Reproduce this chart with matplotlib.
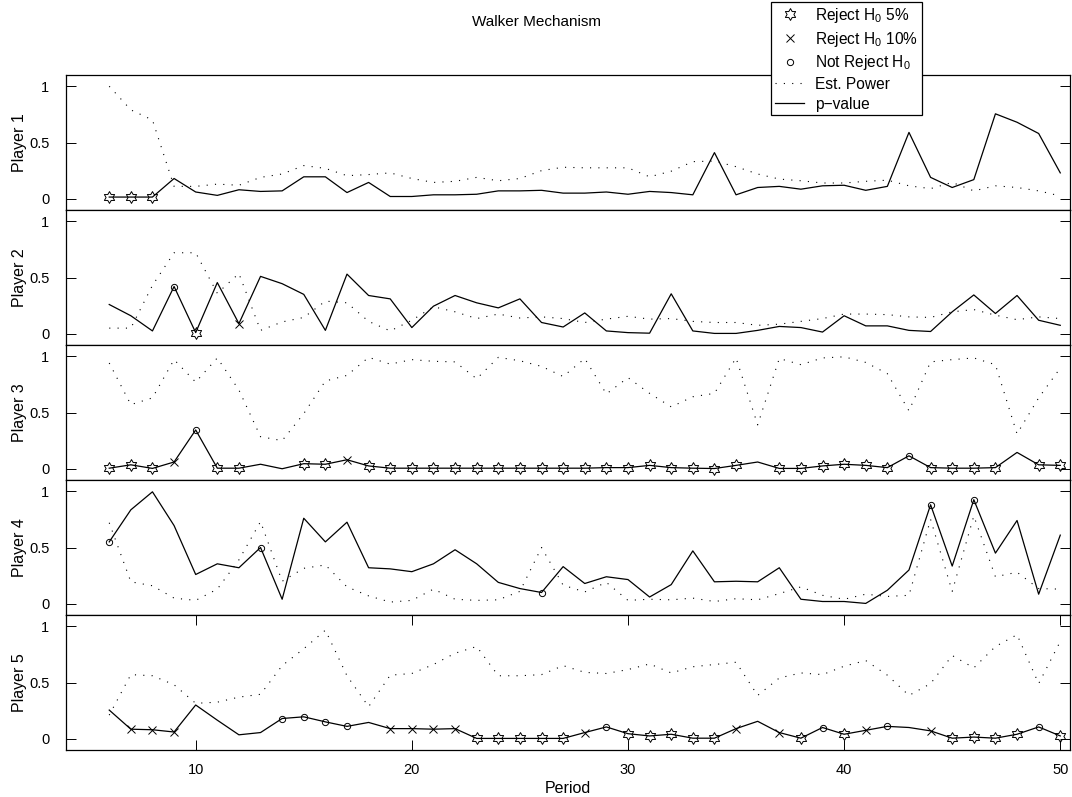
import numpy as np
import matplotlib
matplotlib.use("Agg")
import matplotlib.pyplot as plt
from matplotlib.path import Path
from matplotlib.lines import Line2D

plt.rcParams["font.family"] = ["Liberation Sans", "DejaVu Sans"]
plt.rcParams["mathtext.fontset"] = "custom"
plt.rcParams["mathtext.rm"] = "Liberation Sans"
plt.rcParams["mathtext.it"] = "Liberation Sans:italic"
plt.rcParams["mathtext.bf"] = "Liberation Sans:bold"

# ---------------------------------------------------------------- data
periods = list(range(6, 51))

players = ["Player 1", "Player 2", "Player 3", "Player 4", "Player 5"]

p1_pvalue = [0.015, 0.015, 0.015, 0.18, 0.06, 0.03, 0.08, 0.065, 0.07, 0.195,
             0.195, 0.055, 0.145, 0.02, 0.02, 0.035, 0.035, 0.04, 0.07, 0.07,
             0.075, 0.05, 0.05, 0.06, 0.04, 0.065, 0.055, 0.035, 0.41, 0.035,
             0.10, 0.11, 0.085, 0.115, 0.12, 0.075, 0.11, 0.59, 0.19, 0.10,
             0.17, 0.755, 0.68, 0.58, 0.23]
p1_power = [1.0, 0.79, 0.70, 0.11, 0.11, 0.13, 0.12, 0.19, 0.22, 0.295,
            0.27, 0.205, 0.215, 0.23, 0.18, 0.145, 0.155, 0.19, 0.16, 0.18,
            0.25, 0.28, 0.275, 0.275, 0.275, 0.195, 0.245, 0.33, 0.335, 0.285,
            0.22, 0.175, 0.16, 0.14, 0.14, 0.155, 0.165, 0.115, 0.09, 0.145,
            0.07, 0.115, 0.10, 0.07, 0.025]
p1_test = "hhh" + "." * 42

p2_pvalue = [0.26, 0.16, 0.025, 0.42, 0.01, 0.455, 0.09, 0.51, 0.445, 0.35,
             0.03, 0.53, 0.34, 0.31, 0.055, 0.245, 0.34, 0.275, 0.23, 0.31,
             0.10, 0.06, 0.185, 0.025, 0.01, 0.005, 0.355, 0.025, 0.003, 0.003,
             0.03, 0.065, 0.055, 0.015, 0.16, 0.07, 0.07, 0.03, 0.02, 0.195,
             0.345, 0.18, 0.34, 0.12, 0.075]
p2_power = [0.05, 0.05, 0.43, 0.72, 0.72, 0.36, 0.535, 0.03, 0.105, 0.145,
            0.29, 0.275, 0.11, 0.025, 0.12, 0.24, 0.195, 0.135, 0.175, 0.14,
            0.15, 0.135, 0.10, 0.13, 0.155, 0.13, 0.135, 0.11, 0.10, 0.10,
            0.075, 0.085, 0.11, 0.135, 0.175, 0.175, 0.17, 0.15, 0.145, 0.195,
            0.215, 0.165, 0.125, 0.15, 0.135]
p2_test = "...oh.x" + "." * 38

p3_pvalue = [0.005, 0.035, 0.003, 0.06, 0.345, 0.005, 0.005, 0.04, 0.0, 0.045,
             0.04, 0.08, 0.025, 0.005, 0.005, 0.005, 0.005, 0.005, 0.005, 0.005,
             0.005, 0.005, 0.005, 0.01, 0.01, 0.03, 0.01, 0.005, 0.002, 0.03,
             0.06, 0.003, 0.003, 0.025, 0.04, 0.03, 0.01, 0.115, 0.01, 0.005,
             0.005, 0.01, 0.145, 0.035, 0.03]
p3_power = [0.94, 0.57, 0.63, 0.97, 0.77, 0.985, 0.70, 0.285, 0.25, 0.49,
            0.78, 0.83, 0.99, 0.93, 0.97, 0.955, 0.95, 0.80, 0.99, 0.96,
            0.91, 0.82, 0.98, 0.665, 0.81, 0.67, 0.55, 0.64, 0.67, 0.985,
            0.39, 0.98, 0.925, 0.985, 0.995, 0.945, 0.845, 0.515, 0.95, 0.97,
            0.985, 0.925, 0.31, 0.63, 0.895]
p3_test = "hhhxohh..hhxh" + "h" * 17 + "." + "h" * 6 + "o" + "hhhh" + "." + "hh"

p4_pvalue = [0.55, 0.835, 0.995, 0.695, 0.26, 0.355, 0.32, 0.50, 0.04, 0.76,
             0.55, 0.725, 0.32, 0.31, 0.285, 0.355, 0.48, 0.355, 0.19, 0.135,
             0.10, 0.33, 0.18, 0.24, 0.215, 0.06, 0.17, 0.47, 0.195, 0.20,
             0.195, 0.32, 0.04, 0.02, 0.02, 0.003, 0.12, 0.30, 0.88, 0.335,
             0.925, 0.45, 0.74, 0.085, 0.61]
p4_power = [0.72, 0.195, 0.16, 0.05, 0.03, 0.13, 0.39, 0.73, 0.20, 0.315,
            0.345, 0.15, 0.07, 0.015, 0.03, 0.13, 0.04, 0.03, 0.035, 0.11,
            0.50, 0.165, 0.105, 0.19, 0.03, 0.04, 0.035, 0.05, 0.02, 0.045,
            0.035, 0.09, 0.15, 0.075, 0.04, 0.085, 0.065, 0.075, 0.75, 0.11,
            0.78, 0.24, 0.28, 0.135, 0.13]
p4_test = "o" + "." * 6 + "o" + "." * 12 + "o" + "." * 17 + "o.o" + "...."

p5_pvalue = [0.255, 0.085, 0.08, 0.06, 0.30, 0.165, 0.035, 0.055, 0.18, 0.195,
             0.15, 0.11, 0.145, 0.09, 0.09, 0.085, 0.09, 0.003, 0.003, 0.003,
             0.003, 0.003, 0.055, 0.105, 0.045, 0.025, 0.04, 0.005, 0.005, 0.09,
             0.155, 0.055, 0.005, 0.10, 0.04, 0.075, 0.11, 0.10, 0.07, 0.005,
             0.015, 0.005, 0.04, 0.105, 0.025]
p5_power = [0.21, 0.57, 0.56, 0.48, 0.315, 0.325, 0.37, 0.395, 0.65, 0.80,
            0.965, 0.56, 0.285, 0.565, 0.58, 0.66, 0.76, 0.82, 0.56, 0.56,
            0.57, 0.65, 0.59, 0.58, 0.615, 0.665, 0.585, 0.64, 0.66, 0.68,
            0.385, 0.54, 0.585, 0.57, 0.645, 0.695, 0.565, 0.385, 0.49, 0.74,
            0.63, 0.82, 0.925, 0.49, 0.865]
p5_test = ".xxx....oooo.xxxxhhhhhxohhhhhx.xhohxo.xhhhhoh"

pvalues = [p1_pvalue, p2_pvalue, p3_pvalue, p4_pvalue, p5_pvalue]
powers = [p1_power, p2_power, p3_power, p4_power, p5_power]
tests = [p1_test, p2_test, p3_test, p4_test, p5_test]

# ---------------------------------------------------------------- markers
# six-pointed star outline
ang = np.deg2rad(90 + 30 * np.arange(12))
rad = np.where(np.arange(12) % 2 == 0, 1.0, 1 / np.sqrt(3))
star_verts = np.column_stack([rad * np.cos(ang), rad * np.sin(ang)])
star_verts = np.vstack([star_verts, star_verts[:1]])
hexagram = Path(star_verts, [Path.MOVETO] + [Path.LINETO] * 11 + [Path.CLOSEPOLY])

marker_style = {
    "h": dict(marker=hexagram, markersize=8.5),
    "x": dict(marker="x", markersize=5.5),
    "o": dict(marker="o", markersize=4.5),
}

# ---------------------------------------------------------------- figure
W, H = 1072, 797
fig = plt.figure(figsize=(W / 100, H / 100), dpi=100)
left, right = 66 / W, 1070 / W
top, bottom = 1 - 75 / H, 1 - 750 / H
ph = (top - bottom) / 5

x = np.array(periods)
axes = []
for i in range(5):
    ax = fig.add_axes([left, top - (i + 1) * ph, right - left, ph])
    pv = np.array(pvalues[i])
    pw = np.array(powers[i])
    codes = np.array(list(tests[i]))

    ax.plot(x, pw, color="k", lw=0.8, linestyle=(0, (1, 6.5)))
    ax.plot(x, pv, color="k", lw=0.9)
    for code, st in marker_style.items():
        m = codes == code
        if m.any():
            ax.plot(x[m], pv[m], linestyle="none", mfc="none", mec="k",
                    mew=0.7, **st)

    ax.set_xlim(4, 50.45)
    ax.set_ylim(-0.1, 1.1)
    ax.set_yticks([0, 0.5, 1])
    ax.set_yticklabels(["0", "0.5", "1"])
    ax.tick_params(axis="y", direction="in", left=True, right=True,
                   length=7, width=0.7, pad=12, labelsize=10.5)
    if i < 4:
        ax.tick_params(axis="x", bottom=False, top=False, labelbottom=False)
    else:
        ax.set_xticks([10, 20, 30, 40, 50])
        ax.tick_params(axis="x", direction="in", bottom=True, top=True,
                       length=7, width=0.7, pad=9, labelsize=10.5)
        ax.set_xlabel("Period", fontsize=11.5, labelpad=3)
    for sp in ax.spines.values():
        sp.set_linewidth(0.9)
    ax.set_ylabel(players[i], fontsize=11.5, va="center")
    ax.yaxis.set_label_coords(-0.046, 0.5)
    axes.append(ax)

fig.text(0.5, 1 - 22 / H, "Walker Mechanism", ha="center", va="center",
         fontsize=11)

handles = [
    Line2D([], [], linestyle="none", mfc="none", mec="k", mew=0.7, **marker_style["h"]),
    Line2D([], [], linestyle="none", mfc="none", mec="k", mew=0.7, **marker_style["x"]),
    Line2D([], [], linestyle="none", mfc="none", mec="k", mew=0.7, **marker_style["o"]),
    Line2D([], [], color="k", lw=0.8, linestyle=(0, (1, 6.5))),
    Line2D([], [], color="k", lw=0.9),
]
labels = ["Reject H$_0$ 5%", "Reject H$_0$ 10%", "Not Reject H$_0$",
          "Est. Power", "p\u2212value"]
leg = fig.legend(handles, labels, loc="upper left",
                 bbox_to_anchor=(771 / W, 1 - 2 / H), fontsize=11.2,
                 frameon=True, fancybox=False, edgecolor="k", framealpha=1,
                 handlelength=1.9, handletextpad=0.7, labelspacing=0.3,
                 borderpad=0.25, borderaxespad=0)
leg.get_frame().set_linewidth(0.9)

fig.savefig("out.png", dpi=100)
